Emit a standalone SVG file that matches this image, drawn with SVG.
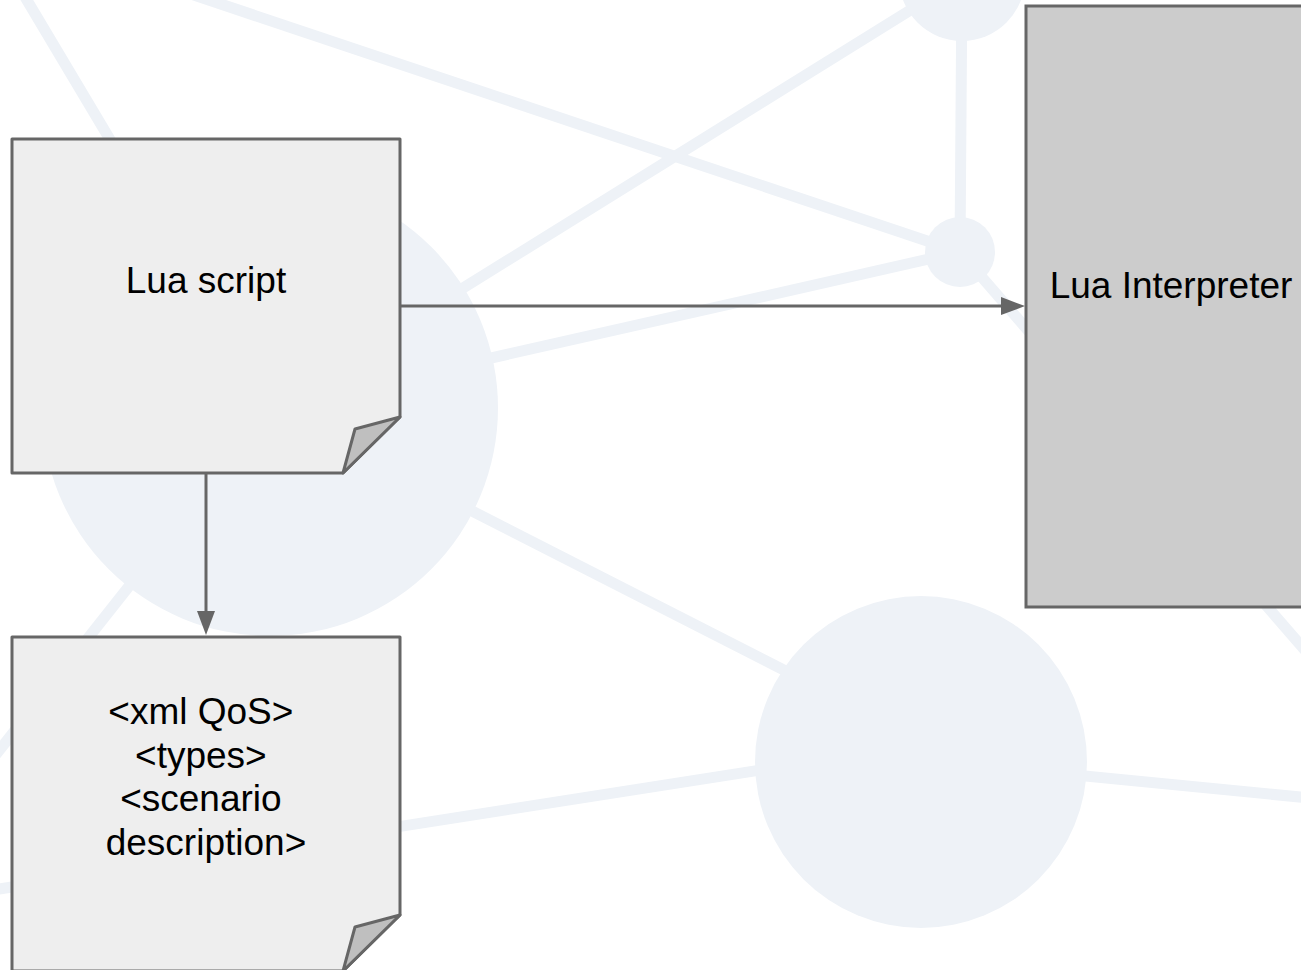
<svg xmlns="http://www.w3.org/2000/svg" width="1301" height="970" viewBox="0 0 1301 970">
  <style>
    .net line { stroke: #eef2f7; stroke-width: 11; }
    .net circle { fill: #eef2f7; }
    .doc { fill: #eeeeee; stroke: #666666; stroke-width: 3; stroke-linejoin: round; }
    .fold { fill: #bfbfbf; stroke: #666666; stroke-width: 3; stroke-linejoin: round; }
    .proc { fill: #cccccc; stroke: #666666; stroke-width: 3; }
    .label { font-family: "Liberation Sans", Arial, sans-serif; font-size: 37px; fill: #000000; text-anchor: middle; }
    .edge { stroke: #666666; stroke-width: 3; fill: none; }
  </style>
  <defs>
    <marker id="arrow" markerUnits="userSpaceOnUse" markerWidth="24" markerHeight="18" refX="0" refY="9" orient="auto" overflow="visible">
      <path d="M0,0 L24,9 L0,18 Z" fill="#666666"/>
    </marker>
  </defs>

  <rect width="1301" height="970" fill="#ffffff"/>

  <!-- faint network pattern in the background -->
  <g id="background" class="net">
    <line x1="0" y1="-45" x2="270" y2="408"/>
    <line x1="0" y1="-70" x2="960" y2="252"/>
    <line x1="270" y1="408" x2="962" y2="-22"/>
    <line x1="270" y1="408" x2="960" y2="252"/>
    <line x1="962" y1="-22" x2="960" y2="252"/>
    <line x1="960" y1="252" x2="1400" y2="760"/>
    <line x1="270" y1="408" x2="921" y2="740"/>
    <line x1="270" y1="408" x2="-40" y2="800"/>
    <line x1="921" y1="745" x2="-20" y2="892"/>
    <line x1="921" y1="760" x2="1320" y2="799"/>
    <circle cx="270" cy="408" r="228"/>
    <circle cx="962" cy="-22" r="63"/>
    <circle cx="960" cy="252" r="35"/>
    <circle cx="921" cy="762" r="166"/>
  </g>

  <!-- connectors -->
  <g id="connectors">
    <line class="edge" x1="400" y1="306" x2="1001" y2="306" marker-end="url(#arrow)"/>
    <line class="edge" x1="206" y1="473" x2="206" y2="611" marker-end="url(#arrow)"/>
  </g>

  <g id="lua-script">
    <path class="doc" d="M12,139 H400 V417 L343,473 H12 Z"/>
    <path class="fold" d="M343,473 L355,429 L400,417 Z"/>
    <text class="label" x="206" y="293">Lua script</text>
  </g>

  <g id="lua-interpreter">
    <rect class="proc" x="1026" y="6" width="300" height="601"/>
    <text class="label" x="1171" y="298">Lua Interpreter</text>
  </g>

  <g id="xml-description">
    <path class="doc" d="M12,637 H400 V915 L343,971 H12 Z"/>
    <path class="fold" d="M343,971 L355,927 L400,915 Z"/>
    <text class="label" x="206" y="724">
      <tspan x="206" y="724">&lt;xml QoS&gt;</tspan>
      <tspan x="206" y="767.7">&lt;types&gt;</tspan>
      <tspan x="206" y="811.4">&lt;scenario</tspan>
      <tspan x="206" y="855.1">description&gt;</tspan>
    </text>
  </g>
</svg>
